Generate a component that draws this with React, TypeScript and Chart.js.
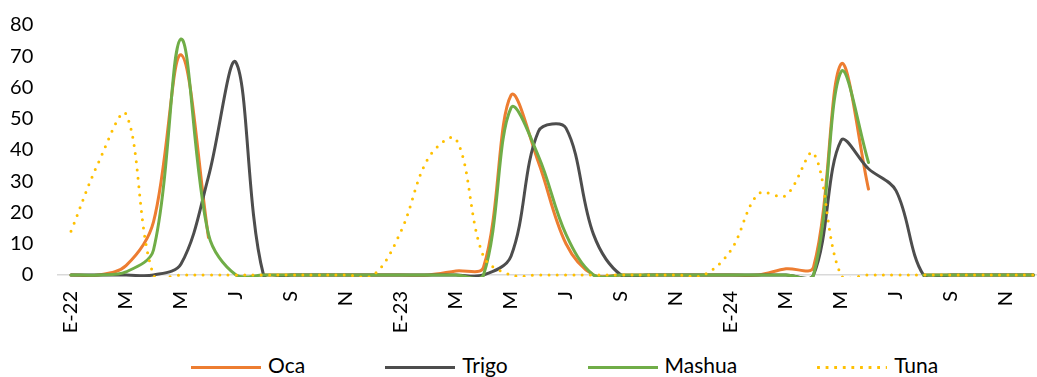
import React, { useEffect, useRef } from 'react';
import { Chart, registerables } from 'chart.js';

Chart.register(...registerables);

// Month categories (E = enero ... D = diciembre), Jan 2022 - Dec 2024
const monthLabels = [
  'E-22', 'F', 'M', 'A', 'M', 'J', 'J', 'A', 'S', 'O', 'N', 'D',
  'E-23', 'F', 'M', 'A', 'M', 'J', 'J', 'A', 'S', 'O', 'N', 'D',
  'E-24', 'F', 'M', 'A', 'M', 'J', 'J', 'A', 'S', 'O', 'N', 'D',
];

const oca = [
  0, 0, 3, 17, 70.5, 12, null, 0, 0, 0, 0, 0,
  0, 0, 1.3, 2.5, 57.5, 36, 10, 0, 0, 0, 0, 0,
  0, 0, 2, 2.5, 67.5, 27.5, null, 0, 0, 0, 0, 0,
];

const trigo = [
  0, 0, 0, 0, 3.5, 31.5, 68, 0, 0, 0, 0, 0,
  0, 0, 0, 0, 6, 46, 47, 13, 0, 0, 0, 0,
  0, 0, 0, 0, 43, 34, 27, 0, 0, 0, 0, 0,
];

const mashua = [
  0, 0, 1, 8, 75.5, 13, 0, 0, 0, 0, 0, 0,
  0, 0, 0, 0, 53.5, 38, 13, 0, 0, 0, 0, 0,
  0, 0, 0, 0, 65, 36, null, 0, 0, 0, 0, 0,
];

const tuna = [
  14, 36, 51.5, 0, 0, 0, 0, 0, 0, 0, 0, 0,
  14, 37.5, 43.5, 6, 0, 0, 0, 0, 0, 0, 0, 0,
  8, 26, 25.5, 39, 0, 0, 0, 0, 0, 0, 0, 0,
];

const seriesNames = ['Oca', 'Trigo', 'Mashua', 'Tuna'];
const seriesValues = [oca, trigo, mashua, tuna];
const seriesColors = ['#ED7D31', '#4D4D4D', '#70AD47', '#FFC000'];
const dottedSeries = [false, false, false, true];

const FONT = { family: 'Lato', size: 20 };

export default function App() {
  const canvasRef = useRef<HTMLCanvasElement | null>(null);

  useEffect(() => {
    if (!canvasRef.current) return;
    const chart = new Chart(canvasRef.current, {
      type: 'line',
      data: {
        labels: monthLabels,
        datasets: seriesNames.map((name, k) => ({
          label: name,
          data: seriesValues[k],
          borderColor: seriesColors[k],
          backgroundColor: seriesColors[k],
          borderWidth: 3,
          pointRadius: 0,
          pointHoverRadius: 0,
          tension: 0.35,
          fill: false,
          spanGaps: false,
          capBezierPoints: false,
          borderCapStyle: 'round',
          borderJoinStyle: 'round',
          borderDash: dottedSeries[k] ? [0, 8.3] : [],
          order: seriesNames.length - 1 - k,
          clip: { left: 20, top: 20, right: 20, bottom: 2 },
        })) as any,
      },
      options: {
        responsive: false,
        animation: false,
        events: [],
        layout: { padding: { left: 10, top: 25, right: 10.75, bottom: 13 } },
        plugins: {
          legend: { display: false },
          tooltip: { enabled: false },
        },
        scales: {
          x: {
            offset: true,
            grid: { display: false, drawTicks: false },
            border: { display: true, color: '#d9d9d9', width: 1.5 },
            ticks: {
              autoSkip: false,
              minRotation: 90,
              maxRotation: 90,
              padding: 16,
              color: '#000',
              font: FONT,
              callback: (_v: any, i: number) => (i % 2 === 0 ? monthLabels[i] : ''),
            },
            afterFit: (s: any) => {
              s.paddingLeft = 0;
              s.paddingRight = 0;
              s.height = 57;
            },
          },
          y: {
            min: 0,
            max: 80,
            grid: { display: false, drawTicks: false },
            border: { display: false },
            ticks: {
              stepSize: 10,
              autoSkip: false,
              maxTicksLimit: 100,
              padding: 24,
              color: '#000',
              font: FONT,
            },
            afterFit: (s: any) => {
              s.paddingTop = 0;
              s.paddingBottom = 0;
              s.width = 47.25;
            },
          },
        },
      } as any,
    });
    return () => chart.destroy();
  }, []);

  return (
    <div
      style={{
        position: 'fixed',
        left: 0,
        top: 0,
        width: 1037,
        height: 377,
        overflow: 'hidden',
        background: '#fff',
      }}
    >
      <canvas
        ref={canvasRef}
        width={1058}
        height={345}
        style={{ position: 'absolute', left: 0, top: 0, width: 1058, height: 345 }}
      />
      <div
        style={{
          position: 'absolute',
          left: 0,
          top: 353,
          display: 'flex',
          alignItems: 'center',
          paddingLeft: 191,
          height: 24,
          fontFamily: 'Lato',
          fontSize: 21,
          lineHeight: '24px',
          color: '#000',
          whiteSpace: 'nowrap',
        }}
      >
        {seriesNames.map((name, k) => (
          <div key={name} style={{ display: 'flex', alignItems: 'center', marginRight: 80 }}>
            <div
              style={
                dottedSeries[k]
                  ? {
                      width: 70,
                      height: 3,
                      transform: 'translateY(2px)',
                      backgroundImage: `radial-gradient(circle at 1.5px 1.5px, ${seriesColors[k]} 1.4px, transparent 1.7px)`,
                      backgroundSize: '8.6px 3px',
                      backgroundRepeat: 'repeat-x',
                    }
                  : {
                      width: 70,
                      height: 3,
                      transform: 'translateY(2px)',
                      background: seriesColors[k],
                    }
              }
            />
            <span style={{ marginLeft: 7 }}>{name}</span>
          </div>
        ))}
      </div>
    </div>
  );
}
